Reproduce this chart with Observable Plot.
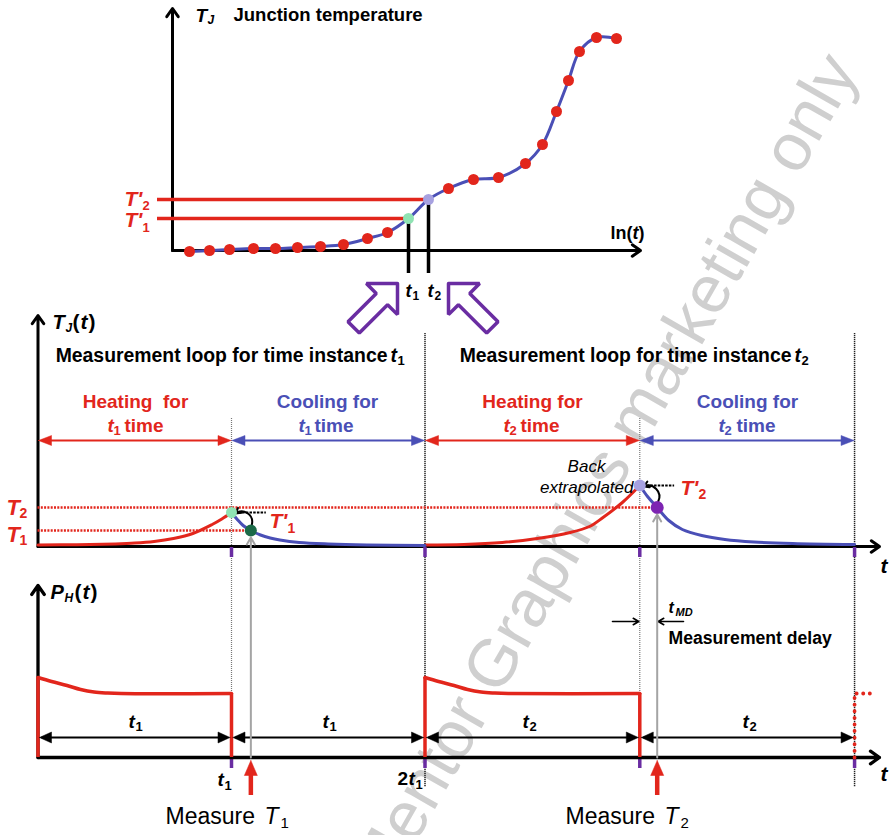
<!DOCTYPE html>
<html><head><meta charset="utf-8">
<script src="https://cdn.jsdelivr.net/npm/d3@7"></script>
<script src="https://cdn.jsdelivr.net/npm/@observablehq/plot@0.6"></script>
<style>html,body{margin:0;padding:0;background:#fff;}</style>
</head><body><div id="chart"></div>
<script>
// ================= DATA =================
// Top panel: junction temperature vs ln(t) (panel units)
const topLnT = [1.7,3.7,5.7,8.1,10.3,12.5,14.8,17.1,19.5,21.5,23.6,25.6,27.6,30.1,32.6,35.3,37.0,38.4,39.6,40.7,42.4,44.4];
const topTJ  = [-0.1,0,0.1,0.2,0.2,0.3,0.4,0.6,1.2,1.8,3.2,5.1,6.2,7.1,7.3,8.7,10.6,13.9,17.0,19.9,21.3,21.2];
const topIdxT1 = 10, topIdxT2 = 11;           // points measured at t1, t2
// Time axis of the measurement loops (t1 = 10 units, t2 = 11.1 units)
const loopTimes = [0, 10, 20, 31.1, 42.2];
const measTimes = [11, 32];                    // t1 + tMD, 2t1 + t2 + tMD
// T_J(t) heating / cooling curves
const heat1T = [0,2,4,5,6,7,8,9,9.5,10];
const heat1V = [1.5,1.8,2.6,3.4,5,8,13,22,27.5,34];
const cool1T = [10,10.3,10.6,11,11.5,12,12.5,13.5,15,17,20];
const cool1V = [34,27,21,16,11.5,8.5,6.5,4,2.5,1.5,1];
const heat2T = [20,22,24,25.8,27.5,28.5,29.2,30.2,31.1];
const heat2V = [1.5,2,4,8,14,20,29,44,61];
const cool2T = [31.1,31.5,32,32.6,33.3,34.3,35.5,37,39,42.2];
const cool2V = [61,50,39,26,17,11,7,4.5,3,2];
const levelT1 = 16, levelT2 = 39, backT1 = 34, backT2 = 61;
// P_H(t) heating pulse shape
const pulseDt = [0,0.7,1.5,2.2,2.9,3.6,4.3];
const pulseP  = [80,76,72,68,65.5,64.5,64];
const pulsePlateau = 64;

// ================= LAYOUT =================
const F = "Liberation Sans, Arial, Helvetica, sans-serif";
const red = "#e2261c", blue = "#4a4fb6", purple = "#6a2da2", gray = "#a4a4a4";
const TX = v => 172 + 10*v, TY = v => 250 - 10*v;       // top panel
const MX = t => 37.5 + 19.35*t;                          // shared time axis
const MY = v => 546 - v;                                 // T_J(t) panel
const BY = v => 757 - v;                                 // P_H(t) panel

const marks = [];
function txt(s, x, y, o = {}) {
  marks.push(Plot.text([{x, y, s}], {x:"x", y:"y", text:"s", textAnchor:o.anchor||"start", lineAnchor:"middle",
    fontSize:o.size||19, fontWeight:o.weight||"bold", fontStyle:o.style||"normal", fill:o.fill||"black", fontFamily:F}));
}
function head(list, x, y, dx, dy, len, hw) {
  const id = list.length, bx = x - dx*len, by = y - dy*len, px = -dy, py = dx;
  list.push({id, x, y}, {id, x:bx+px*hw, y:by+py*hw}, {id, x:bx-px*hw, y:by-py*hw}, {id, x, y});
}
const redHeads = [], blueHeads = [], blackHeads = [];

// watermark
marks.push(Plot.text([{x:604, y:471, s:"Mentor Graphics marketing only"}], {x:"x", y:"y", text:"s", rotate:-60.1,
  fontSize:67, fill:"#cfcfcf", fontFamily:F, textAnchor:"middle", lineAnchor:"middle"}));

// ---------- top panel ----------
const topPts = topLnT.map((v,i)=>({x:TX(v), y:TY(topTJ[i]), i}));
marks.push(Plot.arrow([{x1:TX(0),y1:TY(0),x2:TX(0),y2:8},{x1:TX(0),y1:TY(0),x2:640,y2:TY(0)}],
  {x1:"x1",y1:"y1",x2:"x2",y2:"y2",stroke:"black",strokeWidth:3,headLength:5,headAngle:70}));
const p1 = topPts[topIdxT1], p2 = topPts[topIdxT2];
marks.push(Plot.ruleY([{y:p2.y,x1:TX(-1.5),x2:p2.x},{y:p1.y,x1:TX(-1.5),x2:p1.x}], {y:"y",x1:"x1",x2:"x2",stroke:red,strokeWidth:3.5}));
marks.push(Plot.ruleX([{x:p1.x,y1:p1.y,y2:TY(-2.3)},{x:p2.x,y1:p2.y,y2:TY(-2.3)}], {x:"x",y1:"y1",y2:"y2",stroke:"black",strokeWidth:3.5}));
marks.push(Plot.line(topPts, {x:"x", y:"y", curve:"catmull-rom", stroke:blue, strokeWidth:3}));
marks.push(Plot.dot(topPts.filter(d=>d.i!==topIdxT1 && d.i!==topIdxT2), {x:"x", y:"y", r:5.5, fill:red}));
marks.push(Plot.dot([p1], {x:"x", y:"y", r:5.5, fill:"#8fe3b3"}));
marks.push(Plot.dot([p2], {x:"x", y:"y", r:5.5, fill:"#a7a1e0"}));
txt("T", 195, 15, {style:"italic"}); txt("J", 207, 20, {style:"italic", size:12});
txt("Junction temperature", 233, 15, {size:18.5});
txt("ln(", 610, 233, {size:18}); txt("t", 632, 233, {size:18, style:"italic"}); txt(")", 638, 233, {size:18});
txt("T'", 124, 199, {fill:red, style:"italic", size:21}); txt("2", 142, 205, {fill:red, size:13});
txt("T'", 124, 220, {fill:red, style:"italic", size:21}); txt("1", 142, 227, {fill:red, size:13});
txt("t", 405, 291, {style:"italic", size:18}); txt("1", 412, 296, {size:12});
txt("t", 427, 291, {style:"italic", size:18}); txt("2", 434, 296, {size:12});
// purple hollow block arrows
function blockArrow(tx, ty, ux, uy) {
  const vx = -uy, vy = ux;
  return [[0,0],[-22,22],[-22,8],[-62,8],[-62,-8],[-22,-8],[-22,-22],[0,0]].map(([a,b])=>({x:tx+a*ux+b*vx, y:ty+a*uy+b*vy}));
}
const s2 = Math.SQRT1_2;
marks.push(Plot.line(blockArrow(397,283,s2,-s2), {x:"x",y:"y",fill:"white",stroke:purple,strokeWidth:3.5,strokeLinejoin:"miter"}));
marks.push(Plot.line(blockArrow(448,283,-s2,-s2), {x:"x",y:"y",fill:"white",stroke:purple,strokeWidth:3.5,strokeLinejoin:"miter"}));

// ---------- vertical dotted loop boundaries ----------
marks.push(Plot.ruleX([loopTimes[1], loopTimes[3]].map(t=>({x:MX(t)})), {x:"x", y1:()=>MY(128), y2:()=>BY(64), stroke:"#777", strokeWidth:1.2, strokeDasharray:"1,1"}));
marks.push(Plot.ruleX([loopTimes[2], loopTimes[4]].map(t=>({x:MX(t)})), {x:"x", y1:()=>MY(213), y2:()=>BY(-30), stroke:"#222", strokeWidth:1.5, strokeDasharray:"1.2,0.8"}));

// ---------- middle panel T_J(t) ----------
marks.push(Plot.arrow([{x1:MX(0),y1:MY(0),x2:MX(0),y2:315},{x1:MX(0),y1:MY(0),x2:879,y2:MY(0)}],
  {x1:"x1",y1:"y1",x2:"x2",y2:"y2",stroke:"black",strokeWidth:3,headLength:5,headAngle:70}));
marks.push(Plot.ruleY([{y:MY(levelT2), x1:MX(0), x2:MX(measTimes[1])},{y:MY(levelT1), x1:MX(0), x2:MX(measTimes[0])}],
  {y:"y",x1:"x1",x2:"x2",stroke:red,strokeWidth:2.5,strokeDasharray:"2,1.3"}));
const toPts = (T,V)=>T.map((t,i)=>({x:MX(t), y:MY(V[i])}));
marks.push(Plot.line(toPts(heat1T,heat1V), {x:"x",y:"y",curve:"catmull-rom",stroke:red,strokeWidth:3}));
marks.push(Plot.line(toPts(heat2T,heat2V), {x:"x",y:"y",curve:"catmull-rom",stroke:red,strokeWidth:3}));
marks.push(Plot.line(toPts(cool1T,cool1V), {x:"x",y:"y",curve:"catmull-rom",stroke:blue,strokeWidth:3}));
marks.push(Plot.line(toPts(cool2T,cool2V), {x:"x",y:"y",curve:"catmull-rom",stroke:blue,strokeWidth:3}));
// interval double arrows
const midY = MY(106);
[[0,1,red,redHeads],[1,2,blue,blueHeads],[2,3,red,redHeads],[3,4,blue,blueHeads]].forEach(([a,b,c,h])=>{
  marks.push(Plot.ruleY([{y:midY,x1:MX(loopTimes[a])+4,x2:MX(loopTimes[b])-4}], {y:"y",x1:"x1",x2:"x2",stroke:c,strokeWidth:2}));
  head(h, MX(loopTimes[a])+0.5, midY, -1, 0, 13, 5); head(h, MX(loopTimes[b])-0.5, midY, 1, 0, 13, 5);
});
// back-extrapolation dashes
marks.push(Plot.ruleY([{y:MY(backT1), x1:MX(10), x2:MX(11.8)},{y:MY(backT2), x1:MX(31.1), x2:MX(32.9)}],
  {y:"y",x1:"x1",x2:"x2",stroke:"black",strokeWidth:2,strokeDasharray:"2.5,1.2"}));
marks.push(Plot.arrow([{x1:MX(11)+1,y1:MY(levelT1)-6,x2:MX(10)+4,y2:MY(backT1)+1},{x1:MX(32)+1,y1:MY(levelT2)-6,x2:MX(31.1)+4,y2:MY(backT2)+1}],
  {x1:"x1",y1:"y1",x2:"x2",y2:"y2",bend:-70,stroke:"black",strokeWidth:2,headLength:4.5,headAngle:60}));
// measured / extrapolated points
marks.push(Plot.dot([{x:MX(10),y:MY(backT1)}], {x:"x",y:"y",r:5.5,fill:"#8fe3b3"}));
marks.push(Plot.dot([{x:MX(11),y:MY(levelT1)}], {x:"x",y:"y",r:6,fill:"#1b6a48"}));
marks.push(Plot.dot([{x:MX(31.1),y:MY(backT2)}], {x:"x",y:"y",r:6,fill:"#a7a1e0"}));
marks.push(Plot.dot([{x:MX(32),y:MY(levelT2)}], {x:"x",y:"y",r:6.5,fill:"#7d24b2"}));
// purple tick marks
marks.push(Plot.ruleX(loopTimes.slice(1).map(t=>({x:MX(t)})), {x:"x", y1:()=>MY(-1), y2:()=>MY(-11), stroke:purple, strokeWidth:3.5}));
marks.push(Plot.ruleX(loopTimes.slice(1).map(t=>({x:MX(t)})), {x:"x", y1:()=>BY(-1), y2:()=>BY(-11), stroke:purple, strokeWidth:3.5}));
// labels
txt("T", 52, 322, {style:"italic", size:20}); txt("J", 65, 328, {style:"italic", size:12});
txt("(", 72, 322, {size:21}); txt("t", 80, 322, {size:21, style:"italic"}); txt(")", 88, 322, {size:21});
txt("Measurement loop for time instance", 387, 355, {anchor:"end", size:19.4});
txt("t", 390, 355, {style:"italic", size:19.4}); txt("1", 397, 360, {size:13});
txt("Measurement loop for time instance", 791, 355, {anchor:"end", size:19.4});
txt("t", 794, 355, {style:"italic", size:19.4}); txt("2", 801, 360, {size:13});
txt("Heating\u00a0 for", 135, 401, {anchor:"middle", fill:red});
txt("t", 107, 425, {fill:red, style:"italic"}); txt("1", 113, 430, {fill:red, size:13}); txt("time", 124, 425, {fill:red});
txt("Cooling for", 327, 401, {anchor:"middle", fill:blue});
txt("t", 298, 425, {fill:blue, style:"italic"}); txt("1", 304, 430, {fill:blue, size:13}); txt("time", 314, 425, {fill:blue});
txt("Heating for", 532, 401, {anchor:"middle", fill:red});
txt("t", 503, 425, {fill:red, style:"italic"}); txt("2", 509, 430, {fill:red, size:13}); txt("time", 520, 425, {fill:red});
txt("Cooling for", 747, 401, {anchor:"middle", fill:blue});
txt("t", 718, 425, {fill:blue, style:"italic"}); txt("2", 724, 430, {fill:blue, size:13}); txt("time", 736, 425, {fill:blue});
txt("T", 6, 507, {fill:red, style:"italic", size:22}); txt("2", 19, 513, {fill:red, size:14});
txt("T", 6, 534, {fill:red, style:"italic", size:22}); txt("1", 19, 540, {fill:red, size:14});
txt("T'", 269, 521, {fill:red, style:"italic", size:21}); txt("1", 287, 528, {fill:red, size:14});
txt("T'", 680, 488, {fill:red, style:"italic", size:21}); txt("2", 698, 494, {fill:red, size:14});
txt("Back", 586, 466, {anchor:"middle", weight:"normal", style:"italic", size:17});
txt("extrapolated", 633, 487, {anchor:"end", weight:"normal", style:"italic", size:17});
txt("t", 880, 566, {style:"italic", size:21});

// ---------- bottom panel P_H(t) ----------
marks.push(Plot.arrow([{x1:MX(0),y1:BY(0),x2:MX(0),y2:585},{x1:MX(0),y1:BY(0),x2:879,y2:BY(0)}],
  {x1:"x1",y1:"y1",x2:"x2",y2:"y2",stroke:"black",strokeWidth:3.3,headLength:5,headAngle:70}));
[[loopTimes[0],loopTimes[1]],[loopTimes[2],loopTimes[3]]].forEach(([a,b])=>{
  const top = pulseDt.map((d,i)=>({x:MX(a+d), y:BY(pulseP[i])})).concat([{x:MX(b), y:BY(pulsePlateau)}]);
  marks.push(Plot.line(top, {x:"x",y:"y",curve:"catmull-rom",stroke:red,strokeWidth:3.5}));
  marks.push(Plot.ruleX([{x:MX(a),y1:BY(0),y2:BY(pulseP[0])},{x:MX(b),y1:BY(0),y2:BY(pulsePlateau)}], {x:"x",y1:"y1",y2:"y2",stroke:red,strokeWidth:3.5}));
});
marks.push(Plot.line([{x:MX(loopTimes[4]),y:BY(0)},{x:MX(loopTimes[4]),y:BY(pulsePlateau)},{x:MX(loopTimes[4]+0.8),y:BY(pulsePlateau)}],
  {x:"x",y:"y",stroke:red,strokeWidth:3.8,strokeDasharray:"0.1,6.5",strokeLinecap:"round"}));
const botY = BY(20);
[[0,1],[1,2],[2,3],[3,4]].forEach(([a,b])=>{
  marks.push(Plot.ruleY([{y:botY,x1:MX(loopTimes[a])+4,x2:MX(loopTimes[b])-4}], {y:"y",x1:"x1",x2:"x2",stroke:"black",strokeWidth:2.2}));
  head(blackHeads, MX(loopTimes[a])+1.5, botY, -1, 0, 12, 5.5); head(blackHeads, MX(loopTimes[b])-1.5, botY, 1, 0, 12, 5.5);
});
// measurement delay
marks.push(Plot.arrow([{x1:612,y1:BY(136),x2:MX(loopTimes[3])-1,y2:BY(136)},{x1:683,y1:BY(136),x2:MX(measTimes[1])+1,y2:BY(136)}],
  {x1:"x1",y1:"y1",x2:"x2",y2:"y2",stroke:"black",strokeWidth:1.6,headLength:6,headAngle:60}));
txt("t", 668, 607, {style:"italic", size:16}); txt("MD", 675, 612, {style:"italic", size:11});
txt("Measurement delay", 668, 638, {size:17.6});
// measurement arrows (gray from axis to measured point, red below)
marks.push(Plot.arrow([{x1:MX(measTimes[0]),y1:BY(0),x2:MX(measTimes[0]),y2:MY(levelT1)+7},{x1:MX(measTimes[1]),y1:BY(0),x2:MX(measTimes[1]),y2:MY(levelT2)+7}],
  {x1:"x1",y1:"y1",x2:"x2",y2:"y2",stroke:gray,strokeWidth:2,headLength:6,headAngle:60}));
measTimes.forEach(t=>{
  marks.push(Plot.ruleX([{x:MX(t),y1:795,y2:773}], {x:"x",y1:"y1",y2:"y2",stroke:red,strokeWidth:4.5}));
  head(redHeads, MX(t), 760, 0, -1, 15, 6.5);
});
// labels
txt("P", 50, 592, {style:"italic", size:20}); txt("H", 64, 598, {style:"italic", size:12});
txt("(", 74, 592, {size:21}); txt("t", 82, 592, {size:21, style:"italic"}); txt(")", 90, 592, {size:21});
txt("t", 128, 721, {style:"italic"}); txt("1", 135, 726, {size:13});
txt("t", 322, 721, {style:"italic"}); txt("1", 329, 726, {size:13});
txt("t", 522, 721, {style:"italic"}); txt("2", 529, 726, {size:13});
txt("t", 742, 721, {style:"italic"}); txt("2", 749, 726, {size:13});
txt("t", 217, 779, {style:"italic"}); txt("1", 224, 785, {size:13});
txt("2", 397, 778); txt("t", 408, 778, {style:"italic"}); txt("1", 415, 784, {size:13});
txt("t", 880, 774, {style:"italic", size:21});
txt("Measure", 165, 816, {weight:"normal", size:23});
txt("T", 264, 816, {weight:"normal", style:"italic", size:23}); txt("1", 280, 823, {weight:"normal", size:15});
txt("Measure", 565, 816, {weight:"normal", size:23});
txt("T", 664, 816, {weight:"normal", style:"italic", size:23}); txt("2", 680, 823, {weight:"normal", size:15});

// filled arrowheads
marks.push(Plot.line(redHeads, {x:"x",y:"y",z:"id",fill:red,stroke:red,strokeWidth:0.5}));
marks.push(Plot.line(blueHeads, {x:"x",y:"y",z:"id",fill:blue,stroke:blue,strokeWidth:0.5}));
marks.push(Plot.line(blackHeads, {x:"x",y:"y",z:"id",fill:"black",stroke:"black",strokeWidth:0.5}));

const chart = Plot.plot({
  width: 889, height: 835, margin: 0,
  x: {domain:[0,889], range:[0,889], axis:null},
  y: {domain:[0,835], range:[0,835], axis:null},
  style: {fontFamily: F, background: "white", overflow: "visible"},
  marks
});
document.getElementById("chart").appendChild(chart);
</script>
</body></html>
